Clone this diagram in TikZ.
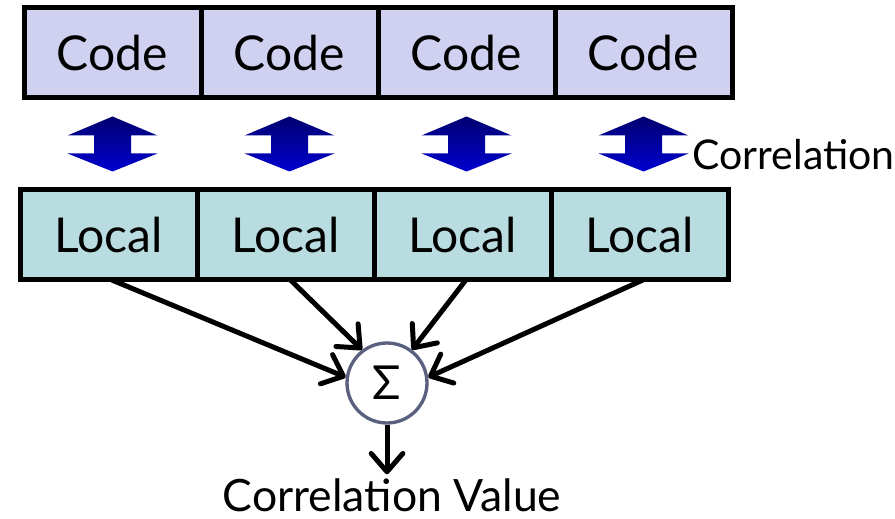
\documentclass[tikz,border=0pt]{standalone}
\usepackage{fontspec}
\setmainfont{Lato}
\usetikzlibrary{arrows.meta,positioning,calc}
\definecolor{CodeFill}{HTML}{D0D0F0}
\definecolor{LocalFill}{HTML}{B8DCE0}
\definecolor{SumRing}{HTML}{5A6080}
\definecolor{ArrowTop}{HTML}{000070}
\definecolor{ArrowBot}{HTML}{0000D0}

\tikzset{
  cell/.style={draw=black,line width=0.15cm,outer sep=0pt,inner sep=0pt,
    minimum width=5.31cm,minimum height=2.7cm,font=\fontsize{41}{46}\selectfont},
  codecell/.style={cell,fill=CodeFill},
  localcell/.style={cell,fill=LocalFill},
  sumnode/.style={circle,draw=SumRing,line width=0.1cm,fill=white,
    minimum size=2.4cm,inner sep=0pt,font=\fontsize{40}{44}\selectfont},
  feed/.style={line width=0.15cm,-{Straight Barb[length=0.55cm,width=0.95cm,round]}}
}

% two-headed exchange arrow centred at a given point
\newcommand{\corrarrow}[1]{%
  \shade[top color=ArrowTop,bottom color=ArrowBot]
    ($(#1)+(0,0.825)$) -- ++(1.35,-0.57) -- ++(-0.795,0) -- ++(0,-0.54)
    -- ++(0.795,0) -- ++(-1.35,-0.54) -- ++(-1.35,0.54) -- ++(0.795,0)
    -- ++(0,0.54) -- ++(-0.795,0) -- cycle;}

\begin{document}
\begin{tikzpicture}[>=Stealth]
\useasboundingbox (0,0) rectangle (26.85,-15.57);

% code row
\node[codecell] (c1) at (3.375,-1.59) {Code};
\node[codecell,right=0pt of c1] (c2) {Code};
\node[codecell,right=0pt of c2] (c3) {Code};
\node[codecell,right=0pt of c3] (c4) {Code};

% local row
\node[localcell] (l1) at (3.255,-7.05) {Local};
\node[localcell,right=0pt of l1] (l2) {Local};
\node[localcell,right=0pt of l2] (l3) {Local};
\node[localcell,right=0pt of l3] (l4) {Local};

% correlation arrows between the rows
\foreach \i in {1,...,4}{
  \coordinate (x\i) at ($(c\i.south)!0.5!(c\i.south |- l\i.north)$);
  \corrarrow{x\i}
}
\node[anchor=west,font=\fontsize{35}{40}\selectfont] (corr) at (20.65,-4.65) {Correlation};

% summation
\node[sumnode] (sum) at (11.61,-11.49) {Σ};
\draw[feed] ([xshift=0.1cm]l1.south) -- (sum.172);
\draw[feed] ([xshift=0.15cm]l2.south) -- (sum.127);
\draw[feed] ([xshift=0.1cm]l3.south) -- (sum.53);
\draw[feed] ([xshift=0.1cm]l4.south) -- (sum.8);

\node[font=\fontsize{38}{44}\selectfont] (val) at (11.76,-14.85) {Correlation Value};
\draw[feed] (sum.south) -- (sum.south |- val.north);
\end{tikzpicture}
\end{document}
